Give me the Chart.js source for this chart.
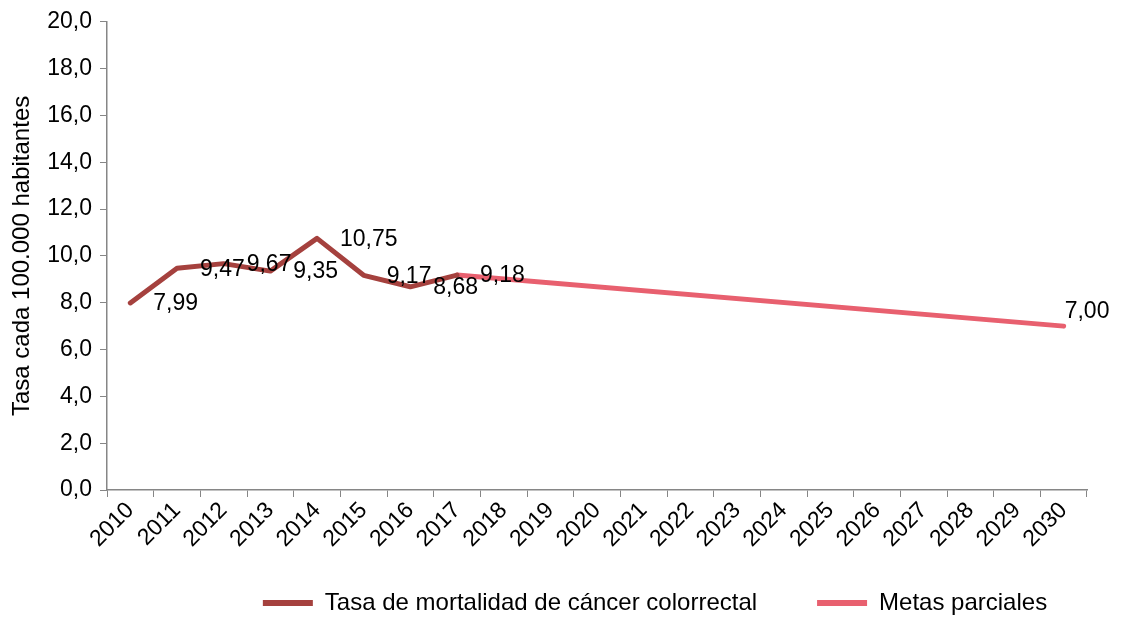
<!DOCTYPE html>
<html>
<head>
<meta charset="utf-8">
<script src="https://cdn.jsdelivr.net/npm/chart.js@4"></script>
<style>
  html, body { margin: 0; padding: 0; background: #fff; }
  #wrap { width: 1122px; height: 618px; }
</style>
</head>
<body>
<div id="wrap"><canvas id="c"></canvas></div>
<script>
// años
const years = ['2010','2011','2012','2013','2014','2015','2016','2017','2018','2019','2020',
  '2021','2022','2023','2024','2025','2026','2027','2028','2029','2030'];

// tasa observada
const tasa = [7.99, 9.47, 9.67, 9.35, 10.75, 9.17, 8.68, 9.18,
  null, null, null, null, null, null, null, null, null, null, null, null, null];

// metas (punto de partida 2017 y meta 2030)
const metas = [null, null, null, null, null, null, null, 9.18,
  null, null, null, null, null, null, null, null, null, null, null, null, 7.00];

const yTicks = [0, 2, 4, 6, 8, 10, 12, 14, 16, 18, 20];

Chart.defaults.font.family = '"Liberation Sans", Arial, sans-serif';
Chart.defaults.font.size = 23;
Chart.defaults.color = '#000';

const fmt = (v, d) => v.toFixed(d).replace('.', ',');

// etiquetas de datos
const dataLabels = {
  id: 'dataLabels',
  afterDatasetsDraw(chart) {
    const ctx = chart.ctx;
    ctx.save();
    ctx.font = '23px "Liberation Sans", Arial, sans-serif';
    ctx.fillStyle = '#000';
    ctx.textAlign = 'left';
    ctx.textBaseline = 'middle';
    chart.data.datasets.forEach((ds, i) => {
      const meta = chart.getDatasetMeta(i);
      meta.data.forEach((pt, j) => {
        const v = ds.data[j];
        if (v == null) return;
        if (ds.labelOnly && ds.labelOnly.indexOf(j) < 0) return;
        const dx = ds.labelDx || 0, dy = ds.labelDy || 0;
        ctx.fillText(fmt(v, 2), pt.x + dx, pt.y + dy);
      });
    });
    ctx.restore();
  }
};

// mover la leyenda (a la derecha y hacia arriba)
const legendShift = {
  id: 'legendShift',
  afterLayout(chart) {
    const lg = chart.legend;
    lg.left += 58; lg.right += 58;
    lg.top -= 31; lg.bottom -= 31;
  }
};

new Chart(document.getElementById('c'), {
  type: 'line',
  data: {
    labels: years,
    datasets: [
      {
        label: 'Tasa de mortalidad de cáncer colorrectal',
        data: tasa,
        borderColor: '#A5413E',
        backgroundColor: '#A5413E',
        borderWidth: 5,
        pointRadius: 0,
        tension: 0,
        borderJoinStyle: 'round',
        borderCapStyle: 'round',
        labelDx: 23, labelDy: 1
      },
      {
        label: 'Metas parciales',
        data: metas,
        borderColor: '#E8606F',
        backgroundColor: '#E8606F',
        borderWidth: 5,
        pointRadius: 0,
        tension: 0,
        spanGaps: true,
        borderCapStyle: 'round',
        labelOnly: [20],
        labelDx: 1, labelDy: -14
      }
    ]
  },
  options: {
    responsive: true,
    maintainAspectRatio: false,
    animation: false,
    layout: { padding: { top: 21, right: 35, left: 0, bottom: -38 } },
    plugins: {
      legend: {
        position: 'bottom',
        fullSize: false,
        labels: {
          boxWidth: 50,
          boxHeight: 6,
          padding: 60,
          color: '#000',
          font: { size: 24 },
          generateLabels: chart => Chart.defaults.plugins.legend.labels.generateLabels(chart)
            .map(l => Object.assign(l, { lineWidth: 0 }))
        }
      },
      tooltip: { enabled: false }
    },
    scales: {
      x: {
        offset: true,
        grid: { display: true, drawOnChartArea: false, drawTicks: true, tickLength: 7, color: '#868686', offset: true },
        border: { color: '#868686', width: 1.5 },
        ticks: { minRotation: 45, maxRotation: 45, autoSkip: false, padding: 0, color: '#000' },
        afterFit(s) { s.height = 72; }
      },
      y: {
        min: 0,
        max: 20,
        afterBuildTicks(s) { s.ticks = yTicks.map(v => ({ value: v })); },
        grid: { display: true, drawOnChartArea: false, drawTicks: true, tickLength: 7, color: '#868686' },
        border: { color: '#868686', width: 1.5 },
        ticks: { callback: v => fmt(v, 1), padding: 8, color: '#000' },
        title: { display: true, text: 'Tasa cada 100.000 habitantes', color: '#000', font: { size: 24 }, padding: { top: 8, bottom: 0 } },
        afterFit(s) { s.width = 107; }
      }
    }
  },
  plugins: [dataLabels, legendShift]
});
</script>
</body>
</html>
